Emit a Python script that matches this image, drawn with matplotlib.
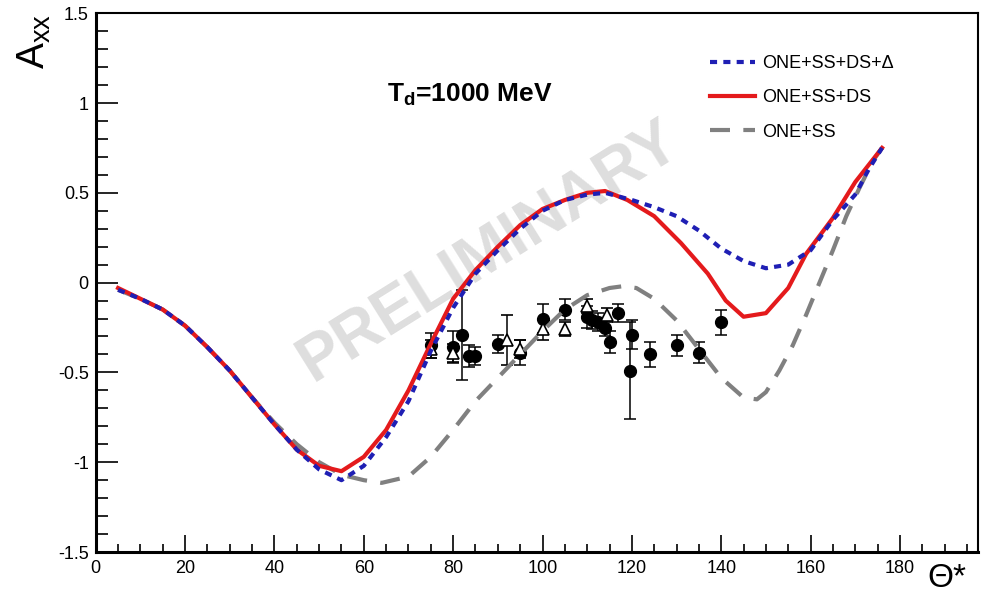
import matplotlib
matplotlib.use("Agg")
import matplotlib.pyplot as plt
from matplotlib.ticker import MultipleLocator

plt.rcParams["font.family"] = ["Liberation Sans", "DejaVu Sans"]
plt.rcParams["mathtext.fontset"] = "custom"
plt.rcParams["mathtext.rm"] = "Liberation Sans"
plt.rcParams["mathtext.bf"] = "Liberation Sans:bold"
plt.rcParams["mathtext.it"] = "Liberation Sans:italic"

# Model curves: A_xx vs c.m. angle
theta_delta = [5, 10, 15, 20, 25, 30, 35, 40, 45, 50, 55, 60, 65, 70, 75, 80, 85,
               90, 95, 100, 105, 110, 114, 120, 125, 130, 135, 140, 145, 150,
               155, 160, 165, 170, 173, 176]
axx_delta = [-0.04, -0.09, -0.15, -0.24, -0.36, -0.49, -0.64, -0.79, -0.93, -1.04,
             -1.10, -1.02, -0.86, -0.66, -0.38, -0.14, 0.05, 0.18, 0.30, 0.40,
             0.46, 0.49, 0.50, 0.46, 0.42, 0.37, 0.29, 0.19, 0.12, 0.08, 0.10,
             0.18, 0.35, 0.49, 0.63, 0.75]

theta_ds = [5, 10, 15, 20, 25, 30, 35, 40, 45, 50, 55, 60, 65, 70, 75, 80, 85, 90,
            95, 100, 105, 110, 114, 119, 125, 131, 137, 141, 145, 150, 155, 159,
            165, 170, 176]
axx_ds = [-0.03, -0.09, -0.15, -0.24, -0.36, -0.49, -0.64, -0.79, -0.93, -1.02,
          -1.05, -0.97, -0.82, -0.60, -0.34, -0.09, 0.07, 0.20, 0.32, 0.41, 0.46,
          0.50, 0.51, 0.46, 0.37, 0.22, 0.05, -0.10, -0.19, -0.17, -0.03, 0.16,
          0.36, 0.56, 0.75]

theta_ss = [5, 10, 15, 20, 25, 30, 35, 40, 45, 50, 55, 60, 64, 70, 75, 80, 85, 90,
            95, 100, 105, 110, 115, 118, 121, 125, 130, 135, 140, 145, 148, 150,
            153, 156, 159, 162, 165, 168, 171, 174, 176]
axx_ss = [-0.04, -0.09, -0.15, -0.24, -0.36, -0.49, -0.64, -0.78, -0.90, -1.00,
          -1.07, -1.10, -1.115, -1.08, -0.97, -0.82, -0.66, -0.53, -0.40, -0.27,
          -0.15, -0.07, -0.03, -0.02, -0.03, -0.09, -0.21, -0.37, -0.53, -0.64,
          -0.65, -0.61, -0.49, -0.35, -0.18, 0.0, 0.18, 0.37, 0.53, 0.68, 0.75]

# Measured points (filled circles)
theta_dots = [75, 80, 82, 83.5, 85, 90, 95, 100, 105, 110, 111, 112.5, 114, 115,
              117, 119.5, 120, 124, 130, 135, 140]
axx_dots = [-0.35, -0.36, -0.29, -0.41, -0.41, -0.34, -0.39, -0.20, -0.15, -0.19,
            -0.21, -0.22, -0.25, -0.33, -0.17, -0.49, -0.29, -0.40, -0.35, -0.39,
            -0.22]
err_dots = [0.07, 0.09, 0.25, 0.06, 0.05, 0.05, 0.07, 0.08, 0.06, 0.06, 0.05, 0.05,
            0.05, 0.06, 0.05, 0.27, 0.08, 0.07, 0.06, 0.06, 0.07]

# Measured points (open triangles)
theta_tri = [75, 80, 92, 95, 100, 105, 110, 114.5]
axx_tri = [-0.37, -0.39, -0.32, -0.37, -0.26, -0.26, -0.13, -0.18]
err_tri = [0.05, 0.05, 0.14, 0.05, 0.06, 0.04, 0.04, 0.04]

fig = plt.figure(figsize=(9.85, 5.98), dpi=100)
ax = fig.add_axes([0.0972, 0.0769, 0.8958, 0.901])

ax.text(88, 0.17, "PRELIMINARY", color="#dedede", fontsize=46,
        fontweight="bold", rotation=32,
        ha="center", va="center", rotation_mode="anchor", zorder=0)

ax.errorbar(theta_dots, axx_dots, yerr=err_dots, fmt="o", color="black",
            markersize=8.5, elinewidth=1.1, capsize=4, capthick=1.1, zorder=3)
ax.errorbar(theta_tri, axx_tri, yerr=err_tri, fmt="^", color="black",
            markerfacecolor="white", markeredgecolor="black", markersize=9,
            markeredgewidth=1.2, elinewidth=1.1, capsize=4, capthick=1.1, zorder=3)

ax.plot(theta_ss, axx_ss, color="#808080", lw=3, ls=(0, (4.8, 3.2)),
        label="ONE+SS", zorder=4)
ax.plot(theta_ds, axx_ds, color="#e41a1c", lw=3, label="ONE+SS+DS", zorder=5)
ax.plot(theta_delta, axx_delta, color="#1f1fb4", lw=3, ls=(0, (1.7, 1.5)),
        label="ONE+SS+DS+\u0394", zorder=6)

ax.set_xlim(0, 197.5)
ax.set_ylim(-1.5, 1.5)
ax.xaxis.set_major_locator(MultipleLocator(20))
ax.xaxis.set_minor_locator(MultipleLocator(5))
ax.yaxis.set_minor_locator(MultipleLocator(0.1))
ax.set_yticks([1.5, 1, 0.5, 0, -0.5, -1, -1.5])
ax.set_yticklabels(["1.5", "1", "0.5", "0", "-0.5", "-1", "-1.5"])
ax.tick_params(axis="both", which="both", direction="in", top=False, right=False,
               labelsize=13, width=1.2)
ax.tick_params(axis="x", which="major", length=12, pad=6)
ax.tick_params(axis="x", which="minor", length=6)
ax.tick_params(axis="y", which="major", length=16, pad=5)
ax.tick_params(axis="y", which="minor", length=8.5)
for side in ["left", "bottom"]:
    ax.spines[side].set_linewidth(2.2)
for side in ["top", "right"]:
    ax.spines[side].set_linewidth(1.5)

handles, labels = ax.get_legend_handles_labels()
ax.legend(handles[::-1], labels[::-1], loc="upper left",
          bbox_to_anchor=(0.696, 0.922), frameon=False, fontsize=13,
          handlelength=2.5, handletextpad=0.4, labelspacing=0.95,
          borderpad=0, borderaxespad=0)

ax.text(83.8, 1.043, r"$\mathbf{T_{d}}$=1000 MeV", fontsize=19,
        fontweight="bold", ha="center", va="center")

fig.text(0.035, 0.93, r"$\mathregular{A_{xx}}$", fontsize=28, rotation=90,
         ha="center", va="center")
fig.text(0.962, 0.032, r"$\mathregular{\Theta}$*", fontsize=24,
         ha="center", va="center")

fig.savefig("out.png", dpi=100)
